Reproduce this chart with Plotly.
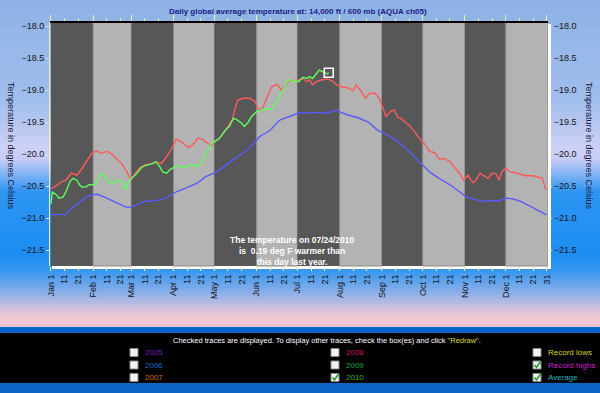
import plotly.graph_objects as go

# ---------------- data (day index: 0 = Jan 1, 364 = Dec 31) ----------------
avg_day = [0, 8, 11, 15, 20, 25, 30, 34, 39, 44, 49, 55, 59, 64, 69, 76, 82, 87, 92, 98,
           107, 114, 122, 130, 139, 146, 153, 161, 168, 175, 182, 186, 194, 201, 206, 210,
           213, 218, 225, 233, 240, 247, 255, 262, 269, 274, 278, 285, 293, 300, 305, 311,
           317, 323, 329, 334, 339, 345, 351, 358, 363, 364]
avg_temp = [-20.95, -20.95, -20.94, -20.85, -20.77, -20.69, -20.64, -20.63, -20.67, -20.72,
            -20.78, -20.83, -20.83, -20.78, -20.74, -20.73, -20.71, -20.66, -20.59, -20.54,
            -20.46, -20.35, -20.28, -20.15, -20.02, -19.91, -19.73, -19.63, -19.47, -19.42,
            -19.36, -19.36, -19.35, -19.36, -19.34, -19.31, -19.35, -19.39, -19.43, -19.50,
            -19.63, -19.70, -19.81, -19.94, -20.09, -20.19, -20.28, -20.38, -20.48, -20.59,
            -20.67, -20.71, -20.74, -20.73, -20.73, -20.69, -20.70, -20.74, -20.81, -20.88,
            -20.94, -20.95]

high_day = [0, 3, 8, 11, 15, 19, 22, 26, 30, 33, 37, 41, 44, 48, 52, 55, 59, 62, 65, 69,
            74, 77, 81, 85, 88, 92, 96, 101, 104, 108, 112, 115, 118, 120, 124, 128, 133,
            135, 137, 141, 146, 150, 152, 155, 158, 162, 166, 169, 172, 174, 178, 181, 185,
            188, 190, 192, 195, 199, 203, 206, 210, 213, 217, 222, 224, 227, 231, 234, 238,
            241, 244, 246, 249, 252, 255, 257, 260, 263, 267, 271, 274, 278, 282, 285, 289,
            293, 296, 300, 303, 306, 310, 312, 315, 318, 321, 324, 327, 329, 331, 334, 337,
            340, 344, 349, 354, 358, 361, 363, 364]
high_temp = [-20.54, -20.51, -20.43, -20.41, -20.30, -20.33, -20.25, -20.12, -19.99, -19.95,
             -19.99, -19.96, -19.99, -20.07, -20.15, -20.25, -20.41, -20.30, -20.22, -20.17,
             -20.15, -20.12, -20.15, -20.04, -19.94, -19.77, -19.81, -19.90, -19.86, -19.75,
             -19.78, -19.83, -19.87, -19.81, -19.75, -19.63, -19.47, -19.31, -19.16, -19.13,
             -19.13, -19.18, -19.30, -19.31, -19.16, -18.95, -18.91, -19.00, -18.95, -18.87,
             -18.85, -18.85, -18.82, -18.87, -18.84, -18.92, -18.87, -18.84, -18.83, -18.85,
             -18.92, -18.95, -18.96, -19.01, -18.92, -19.00, -19.13, -19.05, -19.05, -19.13,
             -19.29, -19.42, -19.34, -19.31, -19.44, -19.44, -19.50, -19.55, -19.65, -19.77,
             -19.83, -19.96, -19.98, -20.08, -20.07, -20.12, -20.20, -20.30, -20.41, -20.33,
             -20.45, -20.41, -20.30, -20.34, -20.38, -20.30, -20.31, -20.41, -20.28, -20.22,
             -20.28, -20.29, -20.31, -20.34, -20.34, -20.36, -20.38, -20.54, -20.55]

y2010_day = [0, 1, 4, 6, 9, 11, 14, 16, 19, 21, 23, 26, 28, 32, 34, 37, 39, 42, 45, 49, 52,
             55, 56, 59, 62, 65, 67, 71, 75, 77, 80, 82, 85, 87, 90, 91, 95, 98, 102, 106,
             109, 112, 114, 117, 120, 124, 128, 131, 134, 137, 140, 142, 145, 147, 151, 155,
             158, 162, 166, 169, 172, 174, 177, 179, 182, 185, 188, 190, 192, 194, 197, 199,
             202, 203, 204]
y2010_temp = [-20.78, -20.59, -20.64, -20.69, -20.67, -20.59, -20.43, -20.38, -20.41, -20.48,
              -20.52, -20.51, -20.48, -20.48, -20.43, -20.30, -20.33, -20.43, -20.46, -20.41,
              -20.43, -20.56, -20.46, -20.38, -20.33, -20.25, -20.20, -20.17, -20.15, -20.12,
              -20.20, -20.28, -20.30, -20.25, -20.22, -20.20, -20.19, -20.21, -20.17, -20.19,
              -20.17, -20.09, -19.99, -19.86, -19.81, -19.75, -19.63, -19.57, -19.44, -19.47,
              -19.52, -19.57, -19.50, -19.42, -19.34, -19.31, -19.29, -19.30, -19.18, -19.05,
              -18.95, -18.83, -18.87, -18.85, -18.87, -18.80, -18.82, -18.79, -18.82, -18.77,
              -18.69, -18.71, -18.74, -18.75, -18.73]

month_names = ["Jan", "Feb", "Mar", "Apr", "May", "Jun", "Jul", "Aug", "Sep", "Oct", "Nov", "Dec"]
month_start = [0, 31, 59, 90, 120, 151, 181, 212, 243, 273, 304, 334]
year_end = 365
y_ticks = [-18.0, -18.5, -19.0, -19.5, -20.0, -20.5, -21.0, -21.5]

title_text = "Daily global average temperature at: 14,000 ft / 600 mb (AQUA ch05)"
axis_title = "Temperature in degrees Celsius"
note_lines = ["The temperature on 07/24/2010", "is  0.19 deg F warmer than", "this day last year."]

legend_rows = [
    [("2005", "#7a18b8", False), ("2008", "#c8106a", False), ("Record lows", "#d8d21e", False)],
    [("2006", "#1870cc", False), ("2009", "#14a048", False), ("Record highs", "#d020d0", True)],
    [("2007", "#d06a10", False), ("2010", "#3cb024", True), ("Average", "#22b0b8", True)],
]

# ---------------- layout geometry ----------------
W, H = 600, 393
L, R, T, B = 50, 52, 22, 127
PW = W - L - R
PH = H - T - B
X_RANGE = [-0.7, 365.0]
Y_RANGE = [-21.75, -17.9375]


def pxx(x):
    return (x - L) / PW


def pyy(y):
    return (H - B - y) / PH


# tick values/labels for the date axis
tick_vals, tick_text = [], []
minor_vals = []
for name, s in zip(month_names, month_start):
    tick_vals += [s, s + 10, s + 20]
    tick_text += [f"{name} 1", "11", "21"]
    minor_vals += [s + 10, s + 20]
tick_vals.append(364)
tick_text.append("31")

FONT = "Liberation Sans, Arial, sans-serif"

fig = go.Figure()

fig.add_trace(go.Scatter(x=avg_day, y=avg_temp, mode="lines",
                         line=dict(color="#5a5aff", width=1.4), hoverinfo="skip"))
fig.add_trace(go.Scatter(x=high_day, y=high_temp, mode="lines",
                         line=dict(color="#ff5a5a", width=1.4), hoverinfo="skip"))
fig.add_trace(go.Scatter(x=y2010_day, y=y2010_temp, mode="lines",
                         line=dict(color="#5cff5c", width=1.4), hoverinfo="skip"))
fig.add_trace(go.Scatter(x=[y2010_day[-1]], y=[y2010_temp[-1]], mode="markers",
                         marker=dict(symbol="square-open", size=9, color="white",
                                     line=dict(color="white", width=1.6)),
                         hoverinfo="skip"))
# helper trace for the mirrored (top / right) axes
fig.add_trace(go.Scatter(x=[], y=[], xaxis="x2", yaxis="y2", showlegend=False))

shapes = []


def lerp(c1, c2, t):
    return tuple(round(a + (b - a) * t) for a, b in zip(c1, c2))


# background gradient
stops = [(0, (142, 178, 230)), (100, (160, 190, 236)), (148, (206, 208, 246)),
         (160, (196, 204, 246)), (192, (45, 148, 242)), (255, (28, 142, 242)),
         (272, (60, 152, 238)), (293, (140, 176, 232)), (316, (240, 200, 212)),
         (328, (242, 200, 210))]
step = 2
for y0 in range(0, 328, step):
    yc = y0 + step / 2
    for (a, ca), (b, cb) in zip(stops[:-1], stops[1:]):
        if a <= yc <= b:
            c = lerp(ca, cb, (yc - a) / (b - a))
            break
    else:
        c = stops[-1][1]
    shapes.append(dict(type="rect", xref="paper", yref="paper", layer="below",
                       x0=pxx(0), x1=pxx(W), y0=pyy(y0 + step + 0.5), y1=pyy(y0),
                       fillcolor=f"rgb{c}", line_width=0))

# bottom legend panel
shapes.append(dict(type="rect", xref="paper", yref="paper", layer="below",
                   x0=pxx(0), x1=pxx(W), y0=pyy(H), y1=pyy(327),
                   fillcolor="#0b64c8", line_width=0))
shapes.append(dict(type="rect", xref="paper", yref="paper", layer="below",
                   x0=pxx(0), x1=pxx(W), y0=pyy(383), y1=pyy(333),
                   fillcolor="#000000", line_width=0))

# white offset frame behind plot
shapes.append(dict(type="rect", xref="paper", yref="paper", layer="below",
                   x0=pxx(52), x1=pxx(551), y0=pyy(269), y1=pyy(24),
                   fillcolor="#ffffff", line_width=0))

# month bands
for i, s in enumerate(month_start):
    e = month_start[i + 1] if i + 1 < len(month_start) else year_end
    dark = (i % 2 == 0)
    shapes.append(dict(type="rect", xref="x", yref="paper", layer="below",
                       x0=max(s, X_RANGE[0]), x1=e, y0=0, y1=1,
                       fillcolor="#575757" if dark else "#b3b3b3",
                       line=dict(width=0 if dark else 1, color="#8a8a8a")))

# top black edge
shapes.append(dict(type="line", xref="paper", yref="paper", layer="below",
                   x0=0, x1=1, y0=1, y1=1, line=dict(color="#000000", width=2)))

annotations = []
annotations.append(dict(text=f"<b>{title_text}</b>", xref="paper", yref="paper",
                        x=pxx(298), y=pyy(11.5), xanchor="center", yanchor="middle",
                        showarrow=False, font=dict(family=FONT, size=8, color="#1c1c84")))
annotations.append(dict(text=axis_title, xref="paper", yref="paper", x=pxx(11), y=pyy(146),
                        xanchor="center", yanchor="middle", textangle=90, showarrow=False,
                        font=dict(family=FONT, size=9, color="#1a1a3a")))
annotations.append(dict(text=axis_title, xref="paper", yref="paper", x=pxx(589), y=pyy(146),
                        xanchor="center", yanchor="middle", textangle=90, showarrow=False,
                        font=dict(family=FONT, size=9, color="#1a1a3a")))
annotations.append(dict(text="<br>".join(f"<b>{t}</b>" for t in note_lines),
                        xref="paper", yref="paper", x=pxx(292), y=pyy(251),
                        xanchor="center", yanchor="middle",
                        showarrow=False, align="center",
                        font=dict(family=FONT, size=8.5, color="#ffffff")))

# legend panel text
annotations.append(dict(
    text='Checked traces are displayed. To display other traces, check the box(es) and click '
         '<span style="color:#dcdc28">"Redraw"</span>.',
    xref="paper", yref="paper", x=pxx(327), y=pyy(340), xanchor="center", yanchor="middle",
    showarrow=False, font=dict(family=FONT, size=7.5, color="#ffffff")))

col_box_x = [130, 331, 533]
row_y = [352.5, 365, 377.5]
for r, row in enumerate(legend_rows):
    for c, (label, color, checked) in enumerate(row):
        bx = col_box_x[c]
        cy = row_y[r]
        shapes.append(dict(type="rect", xref="paper", yref="paper", layer="above",
                           x0=pxx(bx), x1=pxx(bx + 8), y0=pyy(cy + 4), y1=pyy(cy - 4),
                           fillcolor="#f2f2f2", line=dict(color="#8a8a8a", width=1)))
        if checked:
            path = (f"M {pxx(bx + 1.5)},{pyy(cy)} L {pxx(bx + 3.5)},{pyy(cy + 2.5)} "
                    f"L {pxx(bx + 7.5)},{pyy(cy - 3.5)}")
            shapes.append(dict(type="path", xref="paper", yref="paper", layer="above",
                               path=path, line=dict(color="#2a9a2a", width=1.6)))
        annotations.append(dict(text=label, xref="paper", yref="paper",
                                x=pxx(bx + 13), y=pyy(cy), xanchor="left", yanchor="middle",
                                showarrow=False,
                                font=dict(family=FONT, size=8, color=color)))

tickfont = dict(family=FONT, size=9, color="#141420")

fig.update_layout(
    width=W, height=H, template="none",
    margin=dict(l=L, r=R, t=T, b=B, pad=0, autoexpand=False),
    paper_bgcolor="#8eb2e6", plot_bgcolor="rgba(0,0,0,0)",
    showlegend=False, shapes=shapes, annotations=annotations,
    xaxis=dict(range=X_RANGE, tickmode="array", tickvals=tick_vals, ticktext=tick_text,
               tickangle=-90, ticks="outside", ticklen=4, tickcolor="#f0f0a0", tickwidth=1,
               tickfont=dict(family=FONT, size=9, color="#141420"),
               showgrid=False, zeroline=False, showline=False, automargin=False,
               fixedrange=True),
    xaxis2=dict(range=X_RANGE, overlaying="x", side="top", anchor="y2",
                tickmode="array", tickvals=month_start + [364], showticklabels=False,
                ticks="outside", ticklen=6, tickcolor="#f0f0a0", tickwidth=1,
                minor=dict(tickmode="array", tickvals=minor_vals, ticks="outside",
                           ticklen=3, tickcolor="#f0f0a0", tickwidth=1),
                showgrid=False, zeroline=False, showline=False, automargin=False,
                fixedrange=True),
    yaxis=dict(range=Y_RANGE, tickmode="array", tickvals=y_ticks, tickformat=".1f",
               ticks="outside", ticklen=3, tickcolor="#e6e6c8", tickfont=tickfont,
               showgrid=False, zeroline=False, showline=True, linecolor="#ececb0",
               linewidth=1, automargin=False, fixedrange=True),
    yaxis2=dict(range=Y_RANGE, overlaying="y", side="right", anchor="x2",
                tickmode="array", tickvals=y_ticks, tickformat=".1f",
                ticks="outside", ticklen=3, tickcolor="#e6e6c8", tickfont=tickfont,
                showgrid=False, zeroline=False, showline=False, automargin=False,
                fixedrange=True),
)

fig.write_html("out.html", config={"displayModeBar": False},
               post_script="document.body.style.margin='0';document.body.style.overflow='hidden';")
